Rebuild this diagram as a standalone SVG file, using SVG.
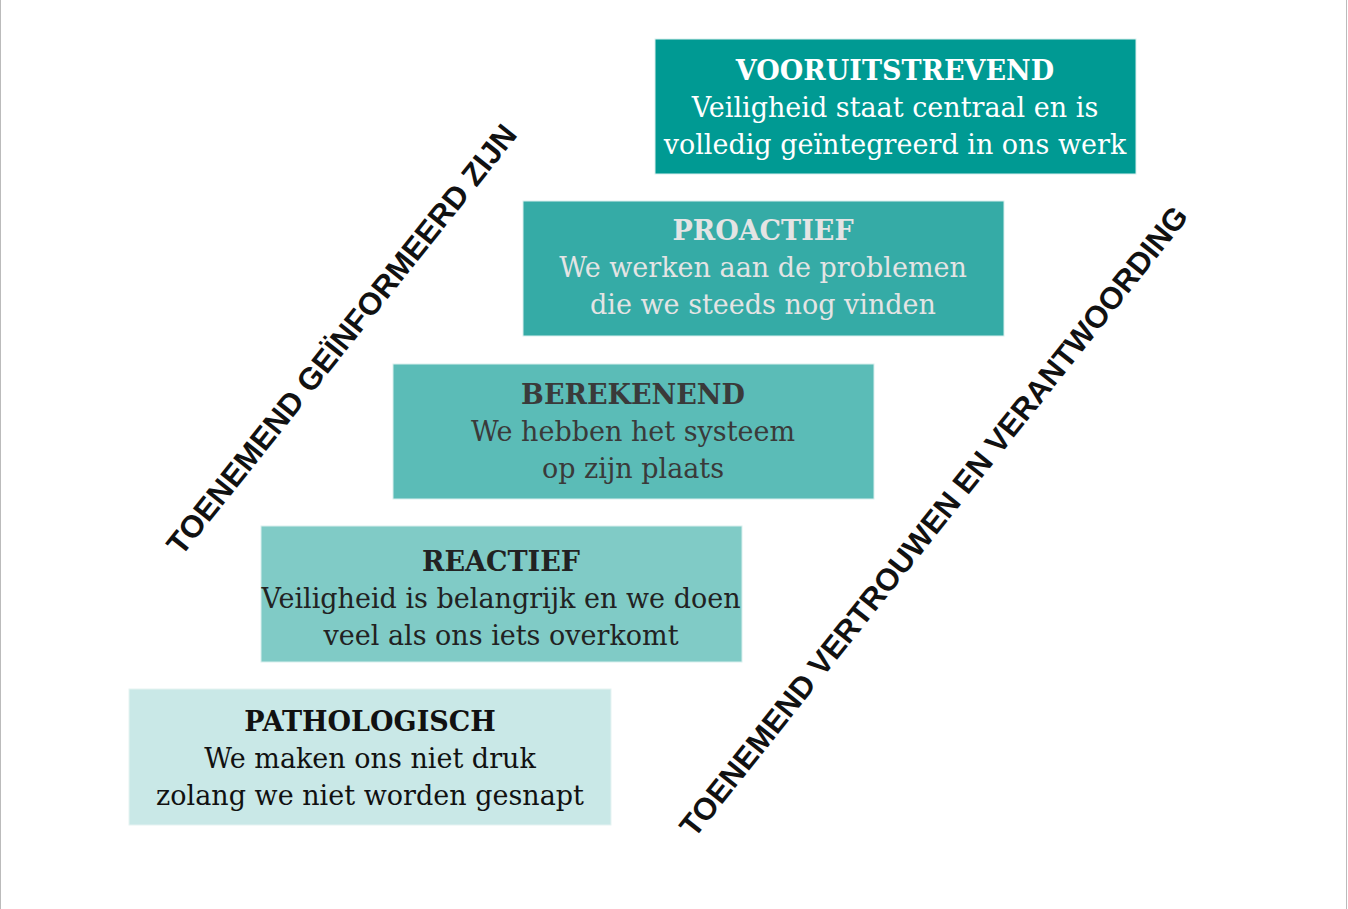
<svg xmlns="http://www.w3.org/2000/svg" width="1348" height="909" viewBox="0 0 1348 909">
<style>
.t{font-family:"DejaVu Serif","Liberation Serif",serif;font-size:27px;text-anchor:middle}
.b{font-weight:bold}
.r{font-family:"Liberation Sans",Arial,sans-serif;font-weight:bold;font-size:31px;fill:#111;text-anchor:middle}
</style>
<rect width="1348" height="909" fill="#fff"/>
<line x1="0.5" y1="0" x2="0.5" y2="909" stroke="#bbb"/>
<line x1="1346.5" y1="0" x2="1346.5" y2="909" stroke="#bbb"/>
<g id="vooruitstrevend">
<rect x="655" y="39" width="481" height="135" fill="#009a93" stroke="#d9efee"/>
<text class="t" fill="#fff" x="895" y="80"><tspan class="b">VOORUITSTREVEND</tspan><tspan x="895" dy="37">Veiligheid staat centraal en is</tspan><tspan x="895" dy="37">volledig geïntegreerd in ons werk</tspan></text>
</g>
<g id="proactief">
<rect x="523" y="201" width="481" height="135" fill="#35aba6" stroke="#d9efee"/>
<text class="t" fill="#e4e4e4" x="763" y="240"><tspan class="b">PROACTIEF</tspan><tspan x="763" dy="37">We werken aan de problemen</tspan><tspan x="763" dy="37">die we steeds nog vinden</tspan></text>
</g>
<g id="berekenend">
<rect x="393" y="364" width="481" height="135" fill="#5bbcb7" stroke="#d9efee"/>
<text class="t" fill="#3a3a3a" x="633" y="404"><tspan class="b">BEREKENEND</tspan><tspan x="633" dy="37">We hebben het systeem</tspan><tspan x="633" dy="37">op zijn plaats</tspan></text>
</g>
<g id="reactief">
<rect x="261" y="526" width="481" height="136" fill="#80cbc6" stroke="#d9efee"/>
<text class="t" fill="#222" x="501" y="571"><tspan class="b">REACTIEF</tspan><tspan x="501" dy="37">Veiligheid is belangrijk en we doen</tspan><tspan x="501" dy="37">veel als ons iets overkomt</tspan></text>
</g>
<g id="pathologisch">
<rect x="129" y="689" width="482" height="136" fill="#c9e8e7" stroke="#e5f3f2"/>
<text class="t" fill="#111" x="370" y="731"><tspan class="b">PATHOLOGISCH</tspan><tspan x="370" dy="37">We maken ons niet druk</tspan><tspan x="370" dy="37">zolang we niet worden gesnapt</tspan></text>
</g>
<text class="r" transform="translate(350,346) rotate(-51.4)" textLength="540" lengthAdjust="spacingAndGlyphs">TOENEMEND GEÏNFORMEERD ZIJN</text>
<text class="r" transform="translate(942,528) rotate(-51.5)" textLength="795" lengthAdjust="spacingAndGlyphs">TOENEMEND VERTROUWEN EN VERANTWOORDING</text>
</svg>
